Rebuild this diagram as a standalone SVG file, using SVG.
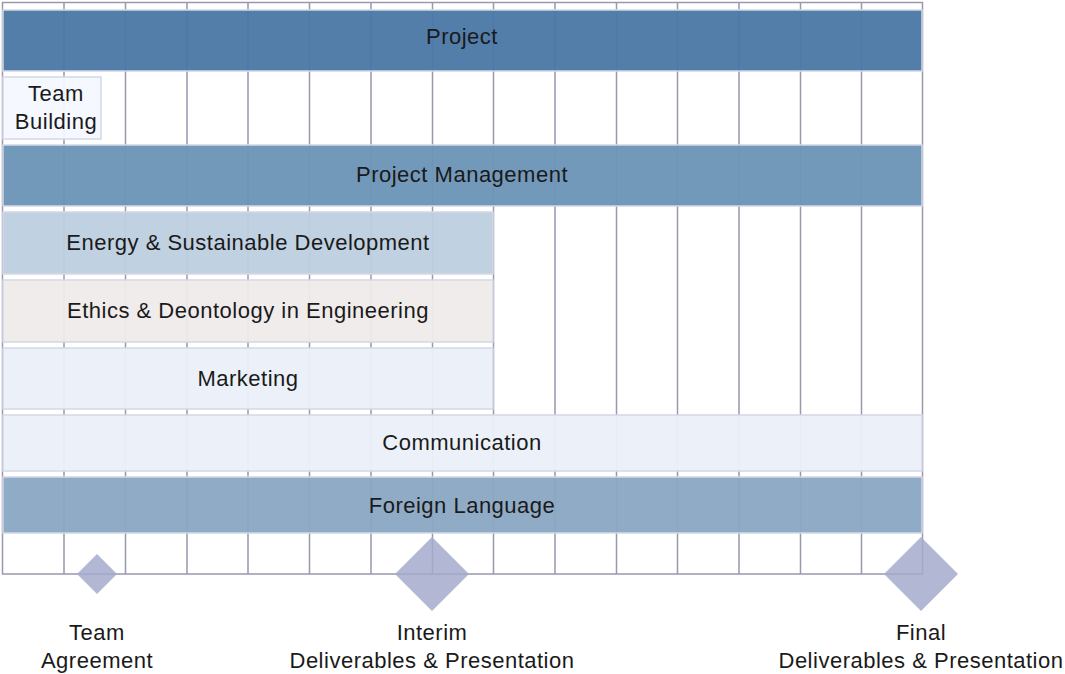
<svg xmlns="http://www.w3.org/2000/svg" width="1065" height="674" viewBox="0 0 1065 674">
<style>
.grid{stroke:#9a98ad;stroke-width:1.5;fill:none}
.bar{stroke:#d4d8e6;stroke-width:1.5}
.t{font-family:"Liberation Sans",Arial,sans-serif;font-size:22px;letter-spacing:0.5px;fill:#1a1a1a;text-anchor:middle}
.ms{fill:#a4aacd;fill-opacity:0.85}
</style>
<rect width="1065" height="674" fill="#fff"/>
<g id="grid">
<rect class="grid" x="2.5" y="2.5" width="920" height="571.5"/>
<path class="grid" d="M64 2.5V574M125.5 2.5V574M187 2.5V574M248 2.5V574M309.5 2.5V574M371 2.5V574M432.5 2.5V574M493.5 2.5V574M555 2.5V574M616.5 2.5V574M677.5 2.5V574M739 2.5V574M800.5 2.5V574M861.5 2.5V574"/>
</g>
<g id="project"><rect class="bar" x="3" y="10" width="919" height="61" fill="#4a77a5" fill-opacity="0.95"/><text class="t" x="462" y="44">Project</text></g>
<g id="team-building"><rect class="bar" x="3" y="77" width="98" height="62" fill="#f4f8fe" fill-opacity="0.95"/><text class="t" x="56" y="101">Team</text><text class="t" x="56" y="129">Building</text></g>
<g id="project-management"><rect class="bar" x="3" y="145" width="919" height="61" fill="#6b94b6" fill-opacity="0.95"/><text class="t" x="462" y="182">Project Management</text></g>
<g id="energy"><rect class="bar" x="3" y="212" width="490" height="62" fill="#bdcfdf" fill-opacity="0.95"/><text class="t" x="248" y="250">Energy &amp; Sustainable Development</text></g>
<g id="ethics"><rect class="bar" x="3" y="280" width="490" height="62" fill="#efebeb" fill-opacity="0.95"/><text class="t" x="248" y="318">Ethics &amp; Deontology in Engineering</text></g>
<g id="marketing"><rect class="bar" x="3" y="348" width="490" height="61" fill="#ebf0f9" fill-opacity="0.95"/><text class="t" x="248" y="386">Marketing</text></g>
<g id="communication"><rect class="bar" x="3" y="415" width="919" height="56" fill="#ebf0f9" fill-opacity="0.95"/><text class="t" x="462" y="450">Communication</text></g>
<g id="foreign-language"><rect class="bar" x="3" y="477" width="919" height="56" fill="#8aa7c2" fill-opacity="0.95"/><text class="t" x="462" y="513">Foreign Language</text></g>
<g id="team-agreement"><polygon class="ms" points="97,554 117,574 97,594 77,574"/><text class="t" x="97" y="640">Team</text><text class="t" x="97" y="668">Agreement</text></g>
<g id="interim"><polygon class="ms" points="432,537 469,574 432,611 395,574"/><text class="t" x="432" y="640">Interim</text><text class="t" x="432" y="668">Deliverables &amp; Presentation</text></g>
<g id="final"><polygon class="ms" points="921,537 958,574 921,611 884,574"/><text class="t" x="921" y="640">Final</text><text class="t" x="921" y="668">Deliverables &amp; Presentation</text></g>
<g id="connectors"/>
</svg>
